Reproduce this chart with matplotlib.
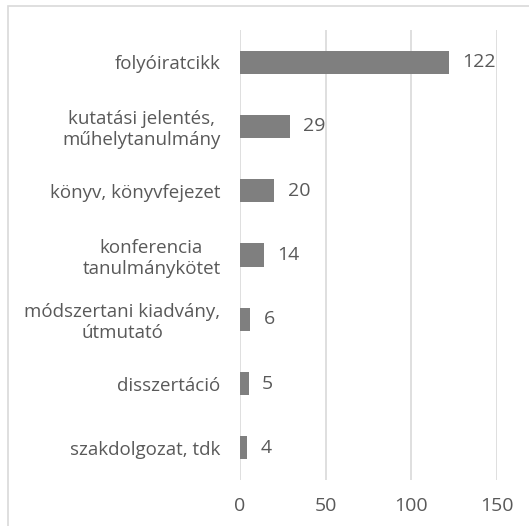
import matplotlib
matplotlib.use("Agg")
import matplotlib.pyplot as plt
from matplotlib.patches import Rectangle

# categories top to bottom, with their counts
categories = ["folyóiratcikk", "kutatási jelentés,\nműhelytanulmány", "könyv, könyvfejezet",
              "konferencia\ntanulmánykötet", "módszertani kiadvány,\nútmutató",
              "disszertáció", "szakdolgozat, tdk"]
counts = [122, 29, 20, 14, 6, 5, 4]
ticks = [0, 50, 100, 150]

plt.rcParams['font.family'] = ['Open Sans', 'DejaVu Sans']
text_col = "#595959"
grid_col = "#d9d9d9"

fig = plt.figure(figsize=(5.29, 5.26), dpi=100)
ax = fig.add_axes([240 / 529, 1 - 480 / 526, (496.7 - 240) / 529, 450 / 526])

# outer chart frame
fig.patches.append(Rectangle((8 / 529, -0.05), 1.0, 1 - 6 / 526 + 0.05,
                             transform=fig.transFigure, fill=False,
                             edgecolor=grid_col, linewidth=1.2))

pos = list(range(len(categories)))
ax.barh(pos, counts, height=0.36, color="#7f7f7f", zorder=3)
for p, v in zip(pos, counts):
    ax.text(v + 8, p, str(v), va="center", ha="left", fontsize=14, color=text_col)

ax.set_ylim(len(categories) - 0.5, -0.5)
ax.set_xlim(0, 150)
ax.set_xticks(ticks)
ax.set_yticks(pos)
ax.set_yticklabels(categories, multialignment="center")
ax.tick_params(axis="x", length=0, labelsize=14, labelcolor=text_col, pad=12)
ax.tick_params(axis="y", length=0, labelsize=13.5, labelcolor=text_col, pad=14)
ax.grid(axis="x", color=grid_col, linewidth=1.2, zorder=0)
for s in ax.spines.values():
    s.set_visible(False)

fig.savefig("out.png", dpi=100)
